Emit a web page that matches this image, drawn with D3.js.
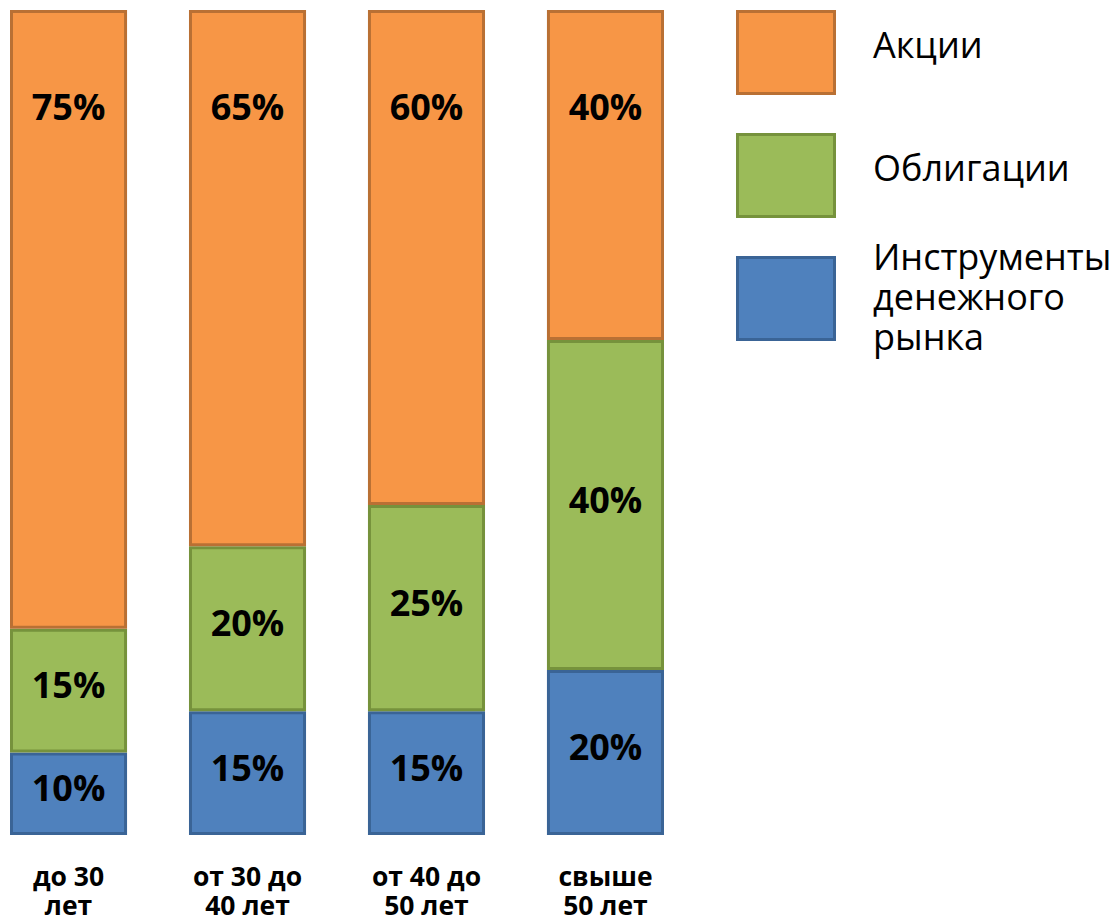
<!DOCTYPE html>
<html><head><meta charset="utf-8">
<script src="https://cdn.jsdelivr.net/npm/d3@7"></script>
<style>body{margin:0;background:#fff}svg{display:block}</style>
</head><body>
<svg id="c" width="1113" height="924"></svg>
<script>
const categories = [["до 30","лет"],["от 30 до","40 лет"],["от 40 до","50 лет"],["свыше","50 лет"]];
const seriesNames = ["Инструменты денежного рынка","Облигации","Акции"];
const money = [10,15,15,20];
const bonds = [15,20,25,40];
const stocks = [75,65,60,40];
const legendLabels = [["Акции"],["Облигации"],["Инструменты","денежного","рынка"]];

const fills = ["#4F81BD","#9BBB59","#F79646"];
const strokes = ["#3A6496","#76923C","#B97034"];

const svg = d3.select("#c");
const font = "'Open Sans', sans-serif";
const x = d3.scaleBand().domain(d3.range(categories.length)).range([10,664]).paddingInner(0.346).paddingOuter(0);
const y = d3.scaleLinear().domain([0,100]).range([835,10]);

const rows = categories.map((c,i)=>({i, money:money[i], bonds:bonds[i], stocks:stocks[i]}));
const stack = d3.stack().keys(["money","bonds","stocks"])(rows);

stack.forEach((layer,k)=>{
  const g = svg.append("g");
  g.selectAll("rect").data(layer).join("rect")
    .attr("x", d=>x(d.data.i)+1.5)
    .attr("width", x.bandwidth()-3)
    .attr("y", d=>y(d[1])+1.5)
    .attr("height", d=>y(d[0])-y(d[1])-3)
    .attr("fill", fills[k]).attr("stroke", strokes[k]).attr("stroke-width",3);
  g.selectAll("text").data(layer).join("text")
    .attr("x", d=>x(d.data.i)+x.bandwidth()/2)
    .attr("y", d=> k===2 ? y(100)+110 : (y(d[0])+y(d[1]))/2 + 7.5)
    .attr("text-anchor","middle")
    .attr("font-family",font).attr("font-weight","bold").attr("font-size",36).attr("fill","#000")
    .text(d=>(d[1]-d[0])+"%");
});

// category labels
categories.forEach((lines,i)=>{
  const t = svg.append("text").attr("text-anchor","middle")
    .attr("font-family",font).attr("font-weight","bold").attr("font-size",26.5).attr("fill","#000");
  lines.forEach((l,j)=>t.append("tspan").attr("x", x(i)+x.bandwidth()/2).attr("y", 886+j*29).text(l));
});

// legend
[2,1,0].forEach((k,idx)=>{
  const y0 = 10 + idx*123;
  svg.append("rect").attr("x",737.5).attr("y",y0+1.5).attr("width",97).attr("height",82)
    .attr("fill",fills[k]).attr("stroke",strokes[k]).attr("stroke-width",3);
  const lines = legendLabels[idx];
  const t = svg.append("text").attr("font-family",font).attr("font-size",36).attr("fill","#000");
  const base = lines.length===1 ? y0+48 : y0+14;
  lines.forEach((l,j)=>t.append("tspan").attr("x",873).attr("y",base+j*40).text(l));
});
</script>
</body></html>
